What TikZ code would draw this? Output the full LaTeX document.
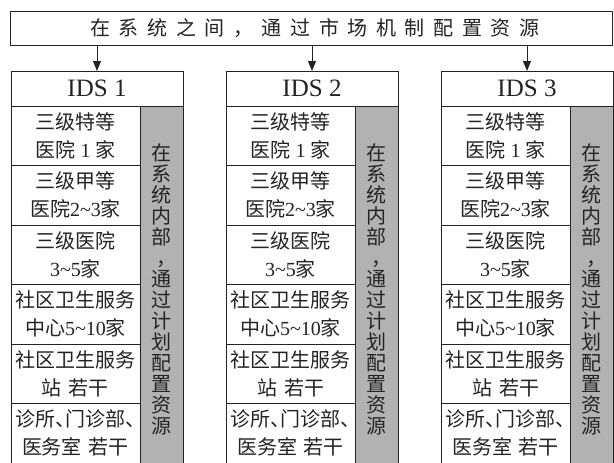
\documentclass[tikz,border=0pt]{standalone}
\usepackage{fontspec}
\setmainfont{Noto Sans CJK SC}
\newfontfamily\lat{Liberation Serif}
\usetikzlibrary{arrows.meta}
\definecolor{ink}{RGB}{35,35,35}
\definecolor{grayc}{RGB}{178,178,178}
\newcommand\sq[1]{\makebox[28.6pt]{#1}}
\newcommand\dn{\makebox[10pt][l]{、}}
\newcommand\tld{\textasciitilde}
\newcommand\gap{\hspace{7pt}}
\newcommand\ta{三级特等\\医院{\lat\ 1\ }家}
\newcommand\tb{三级甲等\\医院{\lat 2\tld 3}家}
\newcommand\tc{三级医院\\{\lat 3\tld 5}家}
\newcommand\td{社区卫生服务\\中心{\lat 5\tld 10}家}
\newcommand\te{社区卫生服务\\站\gap 若干}
\newcommand\tf{诊所\dn 门诊部\dn\\医务室\gap 若干}
\newcommand\sidetext{在\\系\\统\\内\\部\\\makebox[20pt][l]{\hspace*{5pt}\makebox[15pt][l]{，}}\\通\\过\\计\\划\\配\\置\\资\\源}
\begin{document}
\begin{tikzpicture}[x=1pt,y=-1pt,line width=1pt,
  box/.style={draw=ink, inner sep=0pt, outer sep=0pt, text=ink},
  cell/.style={box, minimum width=129pt, minimum height=59.5pt, align=center, font=\fontsize{20}{28}\selectfont},
  hdr/.style={box, minimum width=172pt, minimum height=35pt, font=\lat\fontsize{25}{25}\selectfont},
  side/.style={box, fill=grayc, minimum width=43pt, minimum height=367pt, align=center, font=\fontsize{20}{21}\selectfont},
  arr/.style={draw=ink, -{Triangle[length=10pt,width=8pt]}}]
\useasboundingbox (0,0) rectangle (614,463);
\node[box, minimum width=602.5pt, minimum height=34pt, font=\fontsize{20}{20}\selectfont] (mkt) at (311.25,28)
  {\hspace*{7pt}\sq{在}\sq{系}\sq{统}\sq{之}\sq{间}\sq{，}\sq{通}\sq{过}\sq{市}\sq{场}\sq{机}\sq{制}\sq{配}\sq{置}\sq{资}\sq{源}};
\foreach \k in {0,1,2} {
  \pgfmathsetmacro\X{11+215*\k}
  \pgfmathtruncatemacro\n{\k+1}
  \node[side] (s\k) at (\X+150.5,289.5) {\sidetext};
  \node[hdr] (h\k) at (\X+86,88.5) {IDS \n};
  \node[cell] (c\k-1) at (\X+64.5,135.75) {\ta};
  \node[cell] (c\k-2) at (\X+64.5,195.25) {\tb};
  \node[cell] (c\k-3) at (\X+64.5,254.75) {\tc};
  \node[cell] (c\k-4) at (\X+64.5,314.25) {\td};
  \node[cell] (c\k-5) at (\X+64.5,373.75) {\te};
  \node[cell] (c\k-6) at (\X+64.5,433.25) {\tf};
  \draw[arr] (mkt.south -| h\k.north) -- (h\k.north);
}
\end{tikzpicture}
\end{document}
